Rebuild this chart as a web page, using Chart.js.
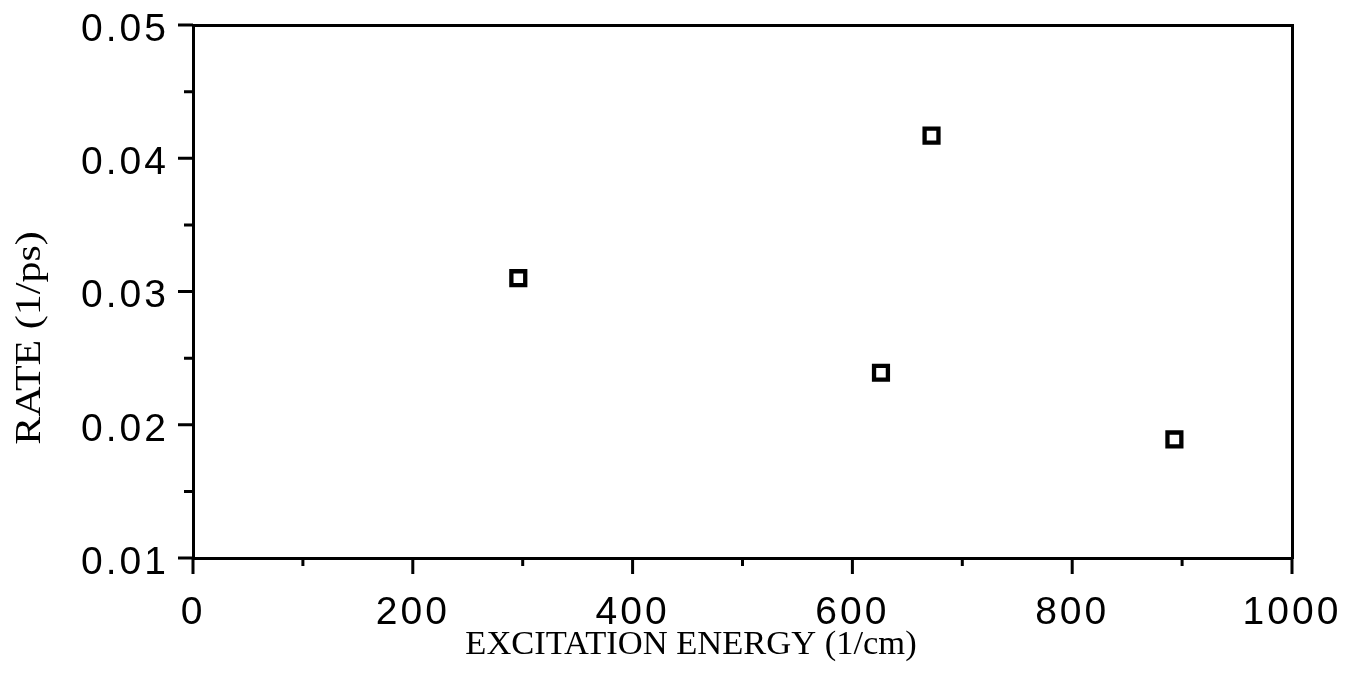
<!DOCTYPE html>
<html>
<head>
<meta charset="utf-8">
<script src="https://cdn.jsdelivr.net/npm/chart.js@4"></script>
<style>
  html, body { margin: 0; padding: 0; background: #fff; overflow: hidden; }
  #wrap { width: 1353px; height: 688px; }
</style>
</head>
<body>
<div id="wrap"><canvas id="grafico"></canvas></div>
<script>
// valores
const energia = [296, 626, 672, 893];
const tasa = [0.031, 0.0239, 0.0417, 0.0189];
const ejeX = { min: 0, max: 1000, paso: 100 };
const ejeY = { min: 0.01, max: 0.05, paso: 0.005 };
const tituloX = 'EXCITATION ENERGY (1/cm)';
const tituloY = 'RATE (1/ps)';

const puntos = energia.map((x, i) => ({ x: x, y: tasa[i] }));

// sin relleno automatico por etiquetas que sobresalen
function sinRelleno(s) {
    s.paddingTop = 0; s.paddingBottom = 0;
    s.paddingLeft = 0; s.paddingRight = 0;
}

// marcas de los ejes (mayores largas, menores cortas) y titulos
const marcas = {
    id: 'marcas',
    beforeDraw(chart) {
        chart.ctx.letterSpacing = '3px';
    },
    beforeDatasetsDraw(chart) {
        chart.ctx.letterSpacing = '5px';
    },
    afterDraw(chart) {
        const ctx = chart.ctx;
        const a = chart.chartArea;
        const sx = chart.scales.x, sy = chart.scales.y;
        ctx.save();
        ctx.strokeStyle = '#000';
        ctx.lineWidth = 3;
        ctx.beginPath();
        sx.ticks.forEach(t => {
            const px = sx.getPixelForValue(t.value);
            const largo = Math.round(t.value) % 200 === 0 ? 16 : 8;
            ctx.moveTo(px, a.bottom);
            ctx.lineTo(px, a.bottom + largo);
        });
        sy.ticks.forEach(t => {
            const py = sy.getPixelForValue(t.value);
            const largo = Math.round(t.value * 1000) % 10 === 0 ? 15 : 9;
            ctx.moveTo(a.left, py);
            ctx.lineTo(a.left - largo, py);
        });
        ctx.stroke();

        ctx.letterSpacing = '0px';
        ctx.fillStyle = '#000';
        ctx.font = '34.5px "Liberation Serif", "Times New Roman", serif';
        ctx.textAlign = 'center';
        ctx.textBaseline = 'middle';
        ctx.fillText(tituloX, 691, 645);
        ctx.font = '35px "Liberation Serif", "Times New Roman", serif';
        ctx.translate(31, 338);
        ctx.rotate(-Math.PI / 2);
        ctx.scale(1.2, 1);
        ctx.fillText(tituloY, 0, 0);
        ctx.restore();
    }
};

const fuente = { family: '"Liberation Sans", Arial, sans-serif', size: 39 };

new Chart(document.getElementById('grafico'), {
    type: 'scatter',
    data: {
        datasets: [{
            data: puntos,
            pointStyle: 'rect',
            pointRadius: 9.8,
            pointHoverRadius: 9.8,
            borderWidth: 4.3,
            borderColor: '#000',
            backgroundColor: '#fff'
        }, {
            data: puntos,
            pointStyle: 'rect',
            pointRadius: 2.8,
            pointHoverRadius: 2.8,
            borderWidth: 0,
            backgroundColor: '#000'
        }]
    },
    options: {
        responsive: true,
        maintainAspectRatio: false,
        animation: false,
        events: [],
        layout: { padding: { top: 25, right: 61, left: 0, bottom: 0 } },
        plugins: { legend: { display: false }, tooltip: { enabled: false } },
        scales: {
            x: {
                type: 'linear', position: 'bottom', z: 1,
                min: ejeX.min, max: ejeX.max,
                afterFit(s) { s.height = 130; sinRelleno(s); },
                grid: { drawOnChartArea: false, drawTicks: false },
                border: { color: '#000', width: 3 },
                ticks: {
                    stepSize: ejeX.paso, padding: 32, color: '#000', font: fuente,
                    maxRotation: 0, autoSkip: false,
                    callback: v => (Math.round(v) % 200 === 0 ? String(v) : '')
                }
            },
            y: {
                type: 'linear', position: 'left',
                min: ejeY.min, max: ejeY.max,
                afterFit(s) { s.width = 193; sinRelleno(s); },
                grid: { drawOnChartArea: false, drawTicks: false },
                border: { color: '#000', width: 3 },
                ticks: {
                    stepSize: ejeY.paso, padding: 24, labelOffset: 5, color: '#000', font: fuente,
                    autoSkip: false,
                    callback: v => (Math.round(v * 1000) % 10 === 0 ? v.toFixed(2) : '')
                }
            },
            x2: {
                type: 'linear', position: 'top',
                min: ejeX.min, max: ejeX.max,
                afterFit(s) { s.height = 0; sinRelleno(s); },
                grid: { drawOnChartArea: false, drawTicks: false },
                border: { color: '#000', width: 3 },
                ticks: { display: false }
            },
            y2: {
                type: 'linear', position: 'right',
                min: ejeY.min, max: ejeY.max,
                afterFit(s) { s.width = 0; sinRelleno(s); },
                grid: { drawOnChartArea: false, drawTicks: false },
                border: { color: '#000', width: 3 },
                ticks: { display: false }
            }
        }
    },
    plugins: [marcas]
});
</script>
</body>
</html>
